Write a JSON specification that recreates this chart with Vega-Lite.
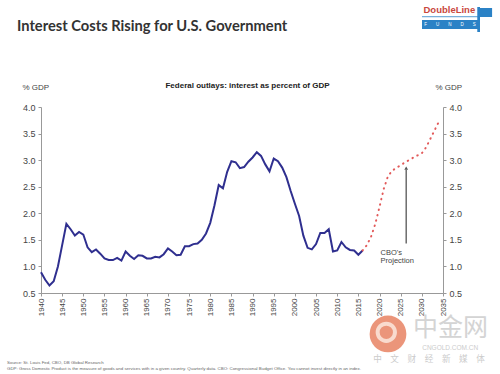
{
  "$schema": "https://vega.github.io/schema/vega-lite/v6.json",
  "autosize": "none",
  "width": 402,
  "height": 186,
  "padding": {"left": 41, "top": 107, "right": 57, "bottom": 81},
  "background": "white",
  "config": {"view": {"stroke": null}, "font": "Liberation Sans"},
  "data": {"values": [{"one": 1}]},
  "datasets": {
    "hist": [
      {"year": 1940, "pct": 0.89}, {"year": 1941, "pct": 0.75}, {"year": 1942, "pct": 0.64}, {"year": 1943, "pct": 0.72},
      {"year": 1944, "pct": 1.0}, {"year": 1945, "pct": 1.4}, {"year": 1946, "pct": 1.8}, {"year": 1947, "pct": 1.7},
      {"year": 1948, "pct": 1.58}, {"year": 1949, "pct": 1.65}, {"year": 1950, "pct": 1.6}, {"year": 1951, "pct": 1.36},
      {"year": 1952, "pct": 1.27}, {"year": 1953, "pct": 1.32}, {"year": 1954, "pct": 1.24}, {"year": 1955, "pct": 1.15},
      {"year": 1956, "pct": 1.12}, {"year": 1957, "pct": 1.12}, {"year": 1958, "pct": 1.16}, {"year": 1959, "pct": 1.11},
      {"year": 1960, "pct": 1.28}, {"year": 1961, "pct": 1.2}, {"year": 1962, "pct": 1.14}, {"year": 1963, "pct": 1.21},
      {"year": 1964, "pct": 1.2}, {"year": 1965, "pct": 1.15}, {"year": 1966, "pct": 1.15}, {"year": 1967, "pct": 1.18},
      {"year": 1968, "pct": 1.17}, {"year": 1969, "pct": 1.23}, {"year": 1970, "pct": 1.34}, {"year": 1971, "pct": 1.28},
      {"year": 1972, "pct": 1.21}, {"year": 1973, "pct": 1.22}, {"year": 1974, "pct": 1.38}, {"year": 1975, "pct": 1.38},
      {"year": 1976, "pct": 1.42}, {"year": 1977, "pct": 1.43}, {"year": 1978, "pct": 1.5}, {"year": 1979, "pct": 1.62},
      {"year": 1980, "pct": 1.82}, {"year": 1981, "pct": 2.15}, {"year": 1982, "pct": 2.53}, {"year": 1983, "pct": 2.47},
      {"year": 1984, "pct": 2.78}, {"year": 1985, "pct": 2.98}, {"year": 1986, "pct": 2.96}, {"year": 1987, "pct": 2.85},
      {"year": 1988, "pct": 2.87}, {"year": 1989, "pct": 2.97}, {"year": 1990, "pct": 3.05}, {"year": 1991, "pct": 3.15},
      {"year": 1992, "pct": 3.08}, {"year": 1993, "pct": 2.92}, {"year": 1994, "pct": 2.79}, {"year": 1995, "pct": 3.03},
      {"year": 1996, "pct": 2.98}, {"year": 1997, "pct": 2.86}, {"year": 1998, "pct": 2.68}, {"year": 1999, "pct": 2.42},
      {"year": 2000, "pct": 2.18}, {"year": 2001, "pct": 1.95}, {"year": 2002, "pct": 1.58}, {"year": 2003, "pct": 1.35},
      {"year": 2004, "pct": 1.32}, {"year": 2005, "pct": 1.42}, {"year": 2006, "pct": 1.63}, {"year": 2007, "pct": 1.63},
      {"year": 2008, "pct": 1.7}, {"year": 2009, "pct": 1.28}, {"year": 2010, "pct": 1.3}, {"year": 2011, "pct": 1.46},
      {"year": 2012, "pct": 1.36}, {"year": 2013, "pct": 1.31}, {"year": 2014, "pct": 1.3}, {"year": 2015, "pct": 1.22},
      {"year": 2016, "pct": 1.3}
    ],
    "proj": [
      {"year": 2016, "pct": 1.3}, {"year": 2017, "pct": 1.4}, {"year": 2018, "pct": 1.56}, {"year": 2019, "pct": 1.8},
      {"year": 2020, "pct": 2.12}, {"year": 2021, "pct": 2.46}, {"year": 2022, "pct": 2.7}, {"year": 2023, "pct": 2.8},
      {"year": 2024, "pct": 2.86}, {"year": 2025, "pct": 2.9}, {"year": 2026, "pct": 2.96}, {"year": 2027, "pct": 3.0},
      {"year": 2028, "pct": 3.05}, {"year": 2029, "pct": 3.09}, {"year": 2030, "pct": 3.13}, {"year": 2031, "pct": 3.24},
      {"year": 2032, "pct": 3.4}, {"year": 2033, "pct": 3.56}, {"year": 2034, "pct": 3.72}
    ],
    "notes": [
      {"label": "Source: St. Louis Fed, CBO, DB Global Research", "year": 1931.97, "pct": -0.817},
      {"label": "GDP: Gross Domestic Product is the measure of goods and services with in a given country. Quarterly data.  CBO: Congressional Budget Office. You cannot invest directly in an index.", "year": 1931.97, "pct": -0.93}
    ],
    "cbo": [
      {"label": "CBO's", "year": 2020.25, "pct": 1.262},
      {"label": "Projection", "year": 2020.25, "pct": 1.093}
    ]
  },
  "layer": [
    {
      "data": {"name": "hist"},
      "mark": {"type": "line", "color": "#2f2f8f", "strokeWidth": 2},
      "encoding": {
        "x": {"field": "year", "type": "quantitative", "scale": {"domain": [1940, 2035], "nice": false, "zero": false},
          "axis": {"values": [1940,1945,1950,1955,1960,1965,1970,1975,1980,1985,1990,1995,2000,2005,2010,2015,2020,2025,2030,2035], "format": "d", "labelAngle": -90, "labelFontSize": 8, "labelColor": "#444444", "labelPadding": 2, "tickSize": 3, "tickColor": "#999999", "domainColor": "#999999", "grid": false, "title": null}},
        "y": {"field": "pct", "type": "quantitative", "scale": {"domain": [0.5, 4.0], "nice": false, "zero": false},
          "axis": {"orient": "left", "values": [0.5,1,1.5,2,2.5,3,3.5,4], "format": ".1f", "labelFontSize": 9, "labelColor": "#444444", "labelPadding": 3, "tickSize": 3, "tickColor": "#999999", "domainColor": "#999999", "grid": false,
            "title": "% GDP", "titleAngle": 0, "titleX": -19, "titleY": -20, "titleAlign": "left", "titleBaseline": "middle", "titleFontSize": 8, "titleFontWeight": "normal", "titleColor": "#444444"}}
      }
    },
    {
      "data": {"name": "proj"},
      "mark": {"type": "line", "color": "#e25a5a", "strokeWidth": 2, "strokeDash": [0.5, 5], "strokeCap": "round"},
      "encoding": {
        "x": {"field": "year", "type": "quantitative", "axis": null},
        "y": {"field": "pct", "type": "quantitative",
          "axis": {"orient": "right", "values": [0.5,1,1.5,2,2.5,3,3.5,4], "format": ".1f", "labelFontSize": 9, "labelColor": "#444444", "labelPadding": 3, "tickSize": 3, "tickColor": "#999999", "domainColor": "#999999", "grid": false,
            "title": "% GDP", "titleAngle": 0, "titleX": -8, "titleY": -20, "titleAlign": "left", "titleBaseline": "middle", "titleFontSize": 8, "titleFontWeight": "normal", "titleColor": "#444444"}}
      }
    },
    {
      "mark": {"type": "rule", "color": "#555555", "strokeWidth": 1.3},
      "encoding": {
        "x": {"datum": 2026.3, "type": "quantitative", "axis": null},
        "y": {"datum": 1.43, "type": "quantitative", "axis": null},
        "y2": {"datum": 2.82}
      }
    },
    {
      "mark": {"type": "point", "shape": "triangle-up", "filled": true, "color": "#555555", "size": 14, "opacity": 1},
      "encoding": {
        "x": {"datum": 2026.3, "type": "quantitative", "axis": null},
        "y": {"datum": 2.85, "type": "quantitative", "axis": null}
      }
    },
    {
      "data": {"name": "cbo"},
      "mark": {"type": "text", "align": "left", "baseline": "middle", "fontSize": 7.5, "color": "#444444"},
      "encoding": {
        "x": {"field": "year", "type": "quantitative", "axis": null},
        "y": {"field": "pct", "type": "quantitative", "axis": null},
        "text": {"field": "label"}
      }
    },
    {
      "mark": {"type": "text", "align": "left", "baseline": "alphabetic", "fontSize": 14.7, "font": "Lato", "fontWeight": "bold", "color": "#333333"},
      "encoding": {
        "x": {"datum": 1934.33, "type": "quantitative", "axis": null},
        "y": {"datum": 5.43, "type": "quantitative", "axis": null},
        "text": {"value": "Interest Costs Rising for U.S. Government"}
      }
    },
    {
      "mark": {"type": "text", "align": "center", "baseline": "middle", "fontSize": 8, "fontWeight": "bold", "color": "#222222"},
      "encoding": {
        "x": {"datum": 1988.8, "type": "quantitative", "axis": null},
        "y": {"datum": 4.386, "type": "quantitative", "axis": null},
        "text": {"value": "Federal outlays: interest as percent of GDP"}
      }
    },
    {
      "data": {"name": "notes"},
      "mark": {"type": "text", "align": "left", "baseline": "middle", "fontSize": 4.4, "color": "#666666"},
      "encoding": {
        "x": {"field": "year", "type": "quantitative", "axis": null},
        "y": {"field": "pct", "type": "quantitative", "axis": null},
        "text": {"field": "label"}
      }
    },
    {
      "mark": {"type": "point", "shape": "circle", "filled": true, "color": "#e98a6c", "size": 1350, "opacity": 0.9},
      "encoding": {
        "x": {"datum": 2022.0, "type": "quantitative", "axis": null},
        "y": {"datum": -0.27, "type": "quantitative", "axis": null}
      }
    },
    {
      "mark": {"type": "point", "shape": "circle", "filled": false, "color": "#fbe3d8", "strokeWidth": 4, "size": 300, "opacity": 0.9},
      "encoding": {
        "x": {"datum": 2021.6, "type": "quantitative", "axis": null},
        "y": {"datum": -0.24, "type": "quantitative", "axis": null}
      }
    },
    {
      "mark": {"type": "text", "align": "center", "baseline": "middle", "fontSize": 25, "font": "Noto Sans CJK SC", "color": "#d4d4d4"},
      "encoding": {
        "x": {"datum": 2036.8, "type": "quantitative", "axis": null},
        "y": {"datum": -0.168, "type": "quantitative", "axis": null},
        "text": {"value": "中金网"}
      }
    },
    {
      "mark": {"type": "text", "align": "center", "baseline": "middle", "fontSize": 6.5, "color": "#cccccc"},
      "encoding": {
        "x": {"datum": 2036.7, "type": "quantitative", "axis": null},
        "y": {"datum": -0.535, "type": "quantitative", "axis": null},
        "text": {"value": "CNGOLD.COM.CN"}
      }
    },
    {
      "mark": {"type": "text", "align": "center", "baseline": "middle", "fontSize": 8.6, "font": "Noto Sans CJK SC", "color": "#cccccc"},
      "encoding": {
        "x": {"datum": 2031.7, "type": "quantitative", "axis": null},
        "y": {"datum": -0.742, "type": "quantitative", "axis": null},
        "text": {"value": "中　文　财　经　新　媒　体"}
      }
    },
    {
      "mark": {"type": "rect", "color": "#2b82c6"},
      "encoding": {
        "x": {"datum": 2030.04, "type": "quantitative", "axis": null},
        "x2": {"datum": 2043.27},
        "y": {"datum": 5.637, "type": "quantitative", "axis": null},
        "y2": {"datum": 5.468}
      }
    },
    {
      "mark": {"type": "rect", "color": "#2b82c6"},
      "encoding": {
        "x": {"datum": 2043.1, "type": "quantitative", "axis": null},
        "x2": {"datum": 2043.75},
        "y": {"datum": 5.882, "type": "quantitative", "axis": null},
        "y2": {"datum": 5.411}
      }
    },
    {
      "mark": {"type": "rect", "color": "#2b82c6"},
      "encoding": {
        "x": {"datum": 2043.6, "type": "quantitative", "axis": null},
        "x2": {"datum": 2046.6},
        "y": {"datum": 5.863, "type": "quantitative", "axis": null},
        "y2": {"datum": 5.694}
      }
    },
    {
      "mark": {"type": "rule", "color": "#2b82c6", "strokeWidth": 0.8},
      "encoding": {
        "x": {"datum": 2030.04, "type": "quantitative", "axis": null},
        "x2": {"datum": 2043.27},
        "y": {"datum": 5.699, "type": "quantitative", "axis": null}
      }
    },
    {
      "mark": {"type": "text", "align": "center", "baseline": "middle", "fontSize": 9.5, "fontWeight": "bold", "color": "#c9473d"},
      "encoding": {
        "x": {"datum": 2036.5, "type": "quantitative", "axis": null},
        "y": {"datum": 5.825, "type": "quantitative", "axis": null},
        "text": {"value": "DoubleLine"}
      }
    },
    {
      "mark": {"type": "text", "align": "center", "baseline": "middle", "fontSize": 4.5, "color": "#ffffff"},
      "encoding": {
        "x": {"datum": 2036.65, "type": "quantitative", "axis": null},
        "y": {"datum": 5.552, "type": "quantitative", "axis": null},
        "text": {"value": "F\u2003\u2003U\u2003\u2003N\u2003\u2003D\u2003\u2003S"}
      }
    }
  ],
  "resolve": {"axis": {"x": "independent", "y": "independent"}}
}
